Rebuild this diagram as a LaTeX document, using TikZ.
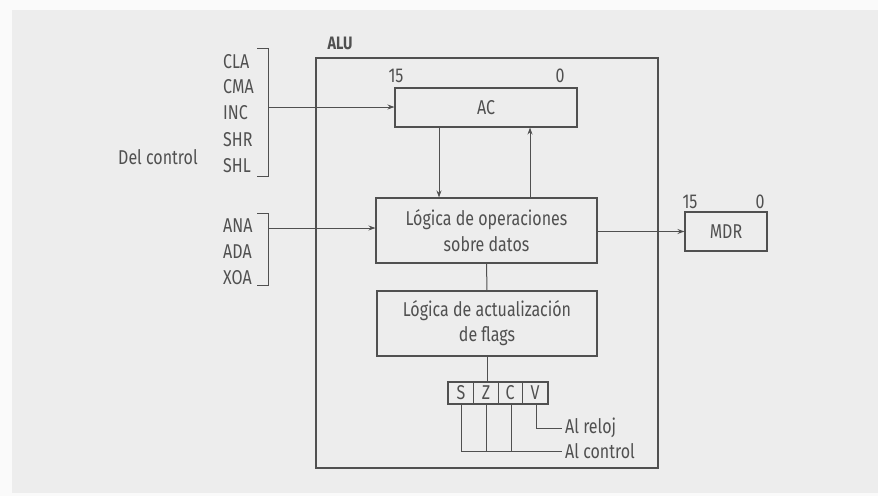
\documentclass[tikz,border=0pt]{standalone}
\usepackage{fontspec}
\setmainfont{Fira Sans}[FakeStretch=0.8]
\usetikzlibrary{arrows.meta,calc}
\definecolor{ink}{HTML}{505050}
\definecolor{panel}{HTML}{EDEDED}
\definecolor{outer}{HTML}{FAFAFA}
\tikzset{
  wire/.style={draw=ink, line width=1pt},
  arr/.style={wire, -{Stealth[length=7pt,width=5pt]}},
  blk/.style={draw=ink, line width=1.1pt, fill=panel, inner sep=0pt, align=center, text=ink},
  lbl/.style={text=ink, inner sep=0pt, font=\fontsize{20}{26}\selectfont},
  sig/.style={lbl, anchor=west},
}
\begin{document}
\begin{tikzpicture}[x=1pt, y=-1pt]
\useasboundingbox (0,0) rectangle (878,496);
\fill[outer] (0,0) rectangle (878,496);
\fill[panel] (12,10) rectangle (878,493);

% ALU frame
\draw[wire, line width=1.1pt] (316,58) rectangle (658,468);
\node[lbl, font=\bfseries\fontsize{18}{20}\selectfont] (alu) at (340,43) {ALU};

% AC register
\node[blk, minimum width=182pt, minimum height=39pt, font=\fontsize{20}{26}\selectfont] (ac) at (486,107.5) {AC};
\node[lbl] (ac15) at (396,76) {15};
\node[lbl] (ac0) at (560,76) {0};

% Operations logic
\node[blk, minimum width=221pt, minimum height=65pt, font=\fontsize{20}{26}\selectfont] (ops) at (486.5,230.5) {Lógica de operaciones\\sobre datos};

% Flags logic
\node[blk, minimum width=220pt, minimum height=65pt, font=\fontsize{20}{25}\selectfont] (flg) at (487,323.5) {Lógica de actualización\\de flags};

% MDR
\node[blk, minimum width=82pt, minimum height=39pt, font=\fontsize{20}{26}\selectfont] (mdr) at (726,231.5) {MDR};
\node[lbl] (mdr15) at (690,202) {15};
\node[lbl] (mdr0) at (760,202) {0};

% Flag register
\node[blk, minimum width=100pt, minimum height=22pt] (reg) at (498,393) {};
\foreach \xx in {473,498,522}{\draw[wire] (\xx,383) -- (\xx,403);}
\node[lbl] (fs) at (461,393) {S};
\node[lbl] (fz) at (486,393) {Z};
\node[lbl] (fc) at (510,393) {C};
\node[lbl] (fv) at (535,393) {V};

% control signal labels
\node[sig] (cla) at (223,62) {CLA};
\node[sig] (cma) at (223,87) {CMA};
\node[sig] (inc) at (223,113) {INC};
\node[sig] (shr) at (223,140) {SHR};
\node[sig] (shl) at (223,166) {SHL};
\node[sig] (ana) at (223,226) {ANA};
\node[sig] (ada) at (223,252) {ADA};
\node[sig] (xoa) at (223,278) {XOA};
\node[sig] (del) at (118,157) {Del control};

% brackets
\coordinate (b1t) at (268,48);
\coordinate (b1b) at (268,176);
\coordinate (b1m) at (268,107);
\draw[wire] ($(b1t)+(-11,0)$) -- (b1t) -- (b1b) -- ($(b1b)+(-11,0)$);
\coordinate (b2t) at (268,213);
\coordinate (b2b) at (268,285);
\coordinate (b2m) at (268,228);
\draw[wire] ($(b2t)+(-11,0)$) -- (b2t) -- (b2b) -- ($(b2b)+(-11,0)$);

% arrows
\draw[arr] (b1m) -- (ac.west |- b1m);
\draw[arr] (b2m) -- (ops.west |- b2m);
\draw[arr] (ac.south -| 439,0) -- (ops.north -| 439,0);
\draw[arr] (ops.north -| 530,0) -- (ac.south -| 530,0);
\draw[arr] (ops.east |- mdr.west) -- (mdr.west);
\draw[wire] (ops.south) -- (flg.north);
\draw[wire] (flg.south) -- (reg.north -| flg.south);

% outputs
\coordinate (ctl) at (562,451);
\coordinate (clk) at (562,428);
\draw[wire] (reg.south -| 461,0) -- (461,451) -- (ctl);
\draw[wire] (reg.south -| 486,0) -- (486,451);
\draw[wire] (reg.south -| 511,0) -- (511,451);
\draw[wire] (reg.south -| 536,0) -- (536,428) -- (clk);
\node[sig, anchor=west] (rel) at ($(clk)+(3,0)$) {Al reloj};
\node[sig, anchor=west] (con) at ($(ctl)+(3,0)$) {Al control};
\end{tikzpicture}
\end{document}
